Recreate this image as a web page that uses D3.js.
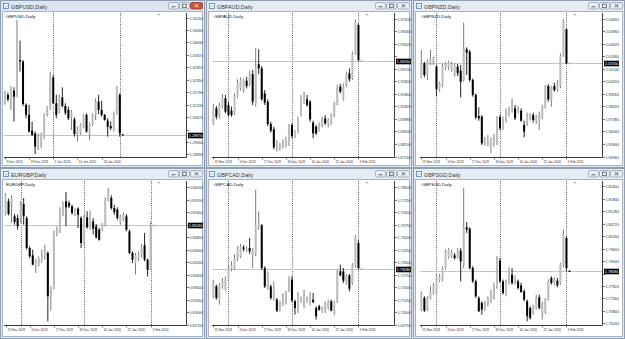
<!DOCTYPE html>
<html lang="en">
<head>
<meta charset="UTF-8">
<title>GBP crosses, Daily</title>
<style>
  body, html { margin: 0; overflow: hidden; background: #fff; }
  svg { display: block; font-family: "Liberation Sans", Arial, sans-serif; }
</style>
</head>
<body>
<script src="https://d3js.org/d3.v7.min.js"></script>
<script>
const width = 625, height = 339;

// trading days on the charts
const dates = [
  "25 Nov 2019","26 Nov 2019","27 Nov 2019","28 Nov 2019","29 Nov 2019",
  "2 Dec 2019","3 Dec 2019","4 Dec 2019","5 Dec 2019","6 Dec 2019",
  "9 Dec 2019","10 Dec 2019","11 Dec 2019","12 Dec 2019","13 Dec 2019",
  "16 Dec 2019","17 Dec 2019","18 Dec 2019","19 Dec 2019","20 Dec 2019",
  "23 Dec 2019","24 Dec 2019","26 Dec 2019","27 Dec 2019","30 Dec 2019","31 Dec 2019",
  "2 Jan 2020","3 Jan 2020","6 Jan 2020","7 Jan 2020","8 Jan 2020","9 Jan 2020","10 Jan 2020",
  "13 Jan 2020","14 Jan 2020","15 Jan 2020","16 Jan 2020","17 Jan 2020",
  "20 Jan 2020","21 Jan 2020","22 Jan 2020","23 Jan 2020","24 Jan 2020",
  "27 Jan 2020","28 Jan 2020","29 Jan 2020","30 Jan 2020","31 Jan 2020",
  "3 Feb 2020","4 Feb 2020"
];

// date labels under each chart
const datesGbpusd = ["9 Dec 2019", "19 Dec 2019", "2 Jan 2020", "14 Jan 2020", "24 Jan 2020"];
const datesOthers = ["25 Nov 2019", "5 Dec 2019", "17 Dec 2019", "30 Dec 2019", "10 Jan 2020", "22 Jan 2020", "3 Feb 2020"];

// [open, high, low, close] -- GBPUSD from 6 Dec 2019
const gbpusd = [
  [1.3137,1.3182,1.3126,1.3159],[1.3132,1.3186,1.3122,1.3167],[1.3167,1.3177,1.3137,1.3147],
  [1.3147,1.3207,1.3099,1.3192],[1.3186,1.3201,1.3047,1.3159],[1.3159,1.3504,1.3156,1.3324],
  [1.3324,1.3411,1.3272,1.3317],[1.3317,1.3324,1.3117,1.3126],[1.3122,1.3129,1.3062,1.3077],
  [1.3077,1.3122,1.2997,1.3002],[1.3006,1.3047,1.2982,1.2987],[1.2994,1.3002,1.2901,1.2934],
  [1.2934,1.2994,1.2919,1.2961],[1.2937,1.2997,1.2927,1.2987],[1.2976,1.3084,1.2967,1.3077],
  [1.3077,1.3117,1.3069,1.3111],[1.3107,1.3272,1.3099,1.3242],
  [1.3246,1.3257,1.3126,1.3129],[1.3129,1.3167,1.3062,1.3077],[1.3092,1.3167,1.3084,1.3156],
  [1.3156,1.3201,1.3111,1.3117],[1.3117,1.3129,1.3077,1.3087],[1.3099,1.3114,1.3054,1.3062],
  [1.3066,1.3099,1.3009,1.3087],[1.3057,1.3066,1.2979,1.2991],[1.2987,1.3024,1.2957,1.3012],
  [1.2997,1.3039,1.2987,1.3032],[1.3024,1.3081,1.3017,1.3077],[1.3077,1.3084,1.2997,1.3002],
  [1.2994,1.3042,1.2964,1.3036],[1.3036,1.3084,1.3027,1.3077],[1.3077,1.3152,1.3054,1.3137],
  [1.3137,1.3167,1.3081,1.3099],[1.3099,1.3141,1.3069,1.3077],[1.3077,1.3081,1.3051,1.3054],
  [1.3051,1.3062,1.2979,1.3024],[1.3027,1.3047,1.3009,1.3017],[1.3012,1.3092,1.3002,1.3084],
  [1.3084,1.3207,1.3077,1.3200],[1.3167,1.3174,1.2979,1.2994],[1.2989,1.2992,1.2985,1.2987]
];

// GBPAUD from 25 Nov 2019
const gbpaud = [
  [1.8970,1.9110,1.89525,1.9085],[1.90775,1.9095,1.8995,1.9015],[1.9015,1.9120,1.90025,1.9095],
  [1.9095,1.9185,1.90775,1.9160],[1.91525,1.91775,1.9040,1.90525],
  [1.91025,1.91275,1.9015,1.90275],[1.9060,1.9090,1.9015,1.90275],[1.9040,1.9190,1.90275,1.9170],
  [1.9170,1.9295,1.91525,1.9270],[1.92275,1.9310,1.9210,1.9285],[1.9210,1.93025,1.9195,1.9285],
  [1.9285,1.9315,1.92275,1.9245],[1.9265,1.9360,1.9245,1.9335],[1.9335,1.9365,1.91025,1.91275],
  [1.9110,1.95275,1.9090,1.9390],[1.9410,1.9520,1.9335,1.93775],[1.93775,1.9395,1.9135,1.9145],
  [1.9190,1.9215,1.91025,1.9120],[1.91275,1.9145,1.8945,1.8960],[1.8960,1.89775,1.8895,1.8910],
  [1.8920,1.8940,1.8770,1.8785],[1.87775,1.8840,1.87525,1.8795],[1.87775,1.8820,1.8760,1.88025],
  [1.8790,1.8845,1.87775,1.8820],[1.8795,1.8865,1.8785,1.8845],[1.8810,1.8960,1.8795,1.8945],
  [1.89525,1.8965,1.88525,1.8870],[1.8865,1.8915,1.88525,1.8900],[1.89025,1.9015,1.8890,1.9000],
  [1.90275,1.91775,1.9015,1.9160],[1.9145,1.92025,1.9110,1.9165],[1.9145,1.91775,1.9090,1.91025],
  [1.91275,1.9140,1.89775,1.8995],[1.8970,1.8985,1.88525,1.8890],[1.8940,1.89525,1.88775,1.8890],
  [1.8915,1.8970,1.89025,1.89525],[1.89525,1.9015,1.8935,1.9000],[1.90025,1.90275,1.89525,1.8965],
  [1.8965,1.90025,1.8935,1.8990],[1.8965,1.9040,1.89525,1.90275],[1.90275,1.91275,1.9010,1.9115],
  [1.9115,1.92525,1.91025,1.9235],[1.9240,1.9260,1.9190,1.92025],[1.91525,1.9265,1.9135,1.9245],
  [1.92525,1.93525,1.9235,1.9335],[1.9340,1.93775,1.92775,1.9295],[1.93025,1.95025,1.9290,1.9485],
  [1.9490,1.9745,1.94775,1.9720],[1.97025,1.9715,1.94275,1.9440],[1.9435,1.9440,1.9430,1.9435]
];

// GBPNZD from 25 Nov 2019
const gbpnzd = [
  [2.0050,2.0255,2.00425,2.0155],[2.0155,2.01675,2.0050,2.00675],[2.00675,2.0185,2.0030,2.01675],
  [2.0160,2.0255,2.01425,2.0175],[2.0155,2.0205,2.01425,2.01925],
  [2.0130,2.01425,1.9910,1.9960],[1.9960,2.00175,1.99425,2.0005],[1.99925,2.0150,1.9975,2.0135],
  [2.01175,2.01675,2.0105,2.0155],[2.0130,2.0175,2.0105,2.0160],[2.0105,2.01675,2.00925,2.0150],
  [2.00675,2.0155,2.0055,2.0135],[2.0130,2.0150,2.0060,2.0080],[2.0100,2.01425,1.9900,2.00175],
  [2.0030,2.0460,2.00175,2.0260],[2.0260,2.0275,2.00675,2.0235],[2.02425,2.0255,2.00175,2.0030],
  [2.0030,2.00425,1.9905,1.99175],[1.99175,1.9930,1.9735,1.9750],[1.9760,1.9825,1.9725,1.97425],
  [1.9755,1.97675,1.95425,1.9555],[1.9550,1.9605,1.9535,1.9580],[1.95425,1.96175,1.9530,1.9575],
  [1.9535,1.9600,1.9480,1.9560],[1.9555,1.9625,1.9530,1.9605],[1.9555,1.9760,1.95425,1.97425],
  [1.9750,1.97675,1.9655,1.96675],[1.96675,1.9755,1.9655,1.9735],[1.9725,1.98175,1.9710,1.9800],
  [1.97675,1.9830,1.9755,1.9805],[1.9805,1.98925,1.9785,1.9875],[1.98175,1.98425,1.9730,1.97425],
  [1.97925,1.9835,1.9780,1.98175],[1.9800,1.98175,1.97175,1.9725],[1.96925,1.9725,1.9600,1.96425],
  [1.9705,1.9785,1.9685,1.97675],[1.97425,1.9780,1.9725,1.97675],[1.97675,1.9785,1.9710,1.9730],
  [1.9725,1.97675,1.9700,1.9755],[1.97175,1.97925,1.9655,1.97675],[1.97425,1.98425,1.9735,1.9825],
  [1.9825,1.99925,1.98175,1.9975],[1.9985,2.0000,1.98675,1.9885],[1.9880,1.9985,1.9830,1.9975],
  [1.9985,2.0010,1.99425,1.9955],[1.9955,2.0030,1.99425,1.99925],[1.9985,2.0230,1.99675,2.0210],
  [2.02175,2.0485,2.0205,2.04675],[2.0410,2.04175,2.0150,2.0155],[2.0155,2.0160,2.0150,2.0155]
];

// EURGBP from 25 Nov 2019
const eurgbp = [
  [0.85356,0.8586,0.85324,0.8582],[0.8566,0.85724,0.85324,0.85356],[0.8558,0.85804,0.8514,0.85724],
  [0.8530,0.85356,0.8510,0.85164],[0.8526,0.8534,0.8498,0.8506],
  [0.8526,0.8566,0.8514,0.85596],[0.85596,0.8574,0.8510,0.8530],[0.8526,0.8530,0.8450,0.8454],
  [0.8454,0.8458,0.8430,0.8434],[0.84364,0.8450,0.84124,0.8414],[0.8414,0.84284,0.8394,0.8422],
  [0.8414,0.8434,0.8410,0.84284],[0.84284,0.8450,0.8418,0.84364],[0.8434,0.8462,0.8426,0.8450],
  [0.8442,0.8446,0.8278,0.8338],[0.8338,0.8362,0.83036,0.8358],[0.8358,0.84956,0.8354,0.8490],
  [0.8490,0.8506,0.8482,0.8498],[0.8494,0.85516,0.8490,0.8546],[0.8534,0.8566,0.8530,0.8558],
  [0.8566,0.85884,0.8506,0.85516],[0.8562,0.85676,0.8550,0.8554],[0.8554,0.8558,0.8534,0.8538],
  [0.85356,0.8550,0.8530,0.8546],[0.85484,0.85516,0.8502,0.8534],[0.8526,0.8530,0.8454,0.8466],
  [0.84684,0.8534,0.8462,0.8526],[0.85276,0.8542,0.85004,0.85036],[0.85036,0.85436,0.8498,0.8538],
  [0.8518,0.8526,0.8486,0.85004],[0.8506,0.85116,0.84764,0.84796],[0.8498,0.8502,0.84716,0.8474],
  [0.8498,0.8514,0.8494,0.8510],[0.8510,0.85756,0.8506,0.8570],[0.8570,0.8598,0.8566,0.85916],
  [0.8574,0.85804,0.8546,0.8550],[0.8550,0.8558,0.8534,0.85404],[0.8546,0.85516,0.8522,0.8526],
  [0.8514,0.8534,0.8510,0.8530],[0.8522,0.8538,0.8518,0.8534],[0.8530,0.85356,0.8494,0.8498],
  [0.8494,0.8498,0.84396,0.8442],[0.8442,0.8446,0.8418,0.8426],[0.8418,0.8442,0.8390,0.84364],
  [0.8430,0.8446,0.8422,0.84396],[0.84364,0.84636,0.84316,0.8458],[0.84604,0.8490,0.8422,0.8426],
  [0.8426,0.84284,0.8386,0.8402],[0.8406,0.85164,0.8402,0.8506],[0.85084,0.8510,0.8506,0.85084]
];

// GBPCAD from 25 Nov 2019
const gbpcad = [
  [1.7144,1.7244,1.7134,1.7230],[1.7204,1.7214,1.7124,1.7134],[1.7124,1.7224,1.7094,1.7210],
  [1.7204,1.7254,1.7190,1.7224],[1.7190,1.7264,1.7178,1.7250],
  [1.7254,1.7334,1.7244,1.7314],[1.7304,1.7354,1.7294,1.7330],[1.7314,1.7398,1.7304,1.7370],
  [1.7370,1.7444,1.7354,1.7430],[1.7384,1.7458,1.7374,1.7444],[1.7438,1.7450,1.7414,1.7426],
  [1.7424,1.7444,1.7410,1.7434],[1.7434,1.7494,1.7398,1.7414],[1.7390,1.7434,1.7314,1.7410],
  [1.7398,1.7784,1.7384,1.7570],[1.7564,1.7654,1.7544,1.7574],[1.7570,1.7578,1.7304,1.7314],
  [1.7314,1.7324,1.7194,1.7204],[1.7194,1.7294,1.7184,1.7284],[1.7204,1.7214,1.7124,1.7134],
  [1.7134,1.7234,1.7118,1.7184],[1.7124,1.7134,1.7050,1.7058],[1.7064,1.7118,1.7054,1.7110],
  [1.7094,1.7164,1.7084,1.7150],[1.7104,1.7178,1.7094,1.7164],[1.7174,1.7264,1.7170,1.7234],
  [1.7244,1.7264,1.7110,1.7118],[1.7114,1.7124,1.7034,1.7074],[1.7054,1.7170,1.7044,1.7158],
  [1.7114,1.7144,1.7104,1.7134],[1.7084,1.7184,1.7074,1.7158],[1.7114,1.7144,1.7104,1.7134],
  [1.7098,1.7170,1.7090,1.7158],[1.7124,1.7164,1.7104,1.7110],[1.7074,1.7084,1.7004,1.7024],
  [1.7084,1.7094,1.7058,1.7064],[1.7054,1.7084,1.7044,1.7074],[1.7054,1.7114,1.7044,1.7104],
  [1.7074,1.7124,1.7064,1.7114],[1.7114,1.7124,1.7054,1.7058],[1.7038,1.7118,1.7030,1.7110],
  [1.7114,1.7304,1.7104,1.7294],[1.7294,1.7334,1.7264,1.7270],[1.7294,1.7314,1.7224,1.7238],
  [1.7224,1.7278,1.7214,1.7270],[1.7270,1.7278,1.7174,1.7190],[1.7224,1.7344,1.7214,1.7330],
  [1.7324,1.7510,1.7314,1.7498],[1.7464,1.7484,1.7304,1.7314],[1.7308,1.7312,1.7304,1.7308]
];

// GBPSGD from 25 Nov 2019
const gbpsgd = [
  [1.7686,1.7768,1.7678,1.7756],[1.7738,1.7746,1.7675,1.7681],[1.7686,1.7746,1.7678,1.7735],
  [1.7738,1.7791,1.7731,1.7765],[1.7761,1.7806,1.7753,1.7791],
  [1.7765,1.7846,1.7756,1.7836],[1.7816,1.7846,1.7810,1.7836],[1.7821,1.7881,1.7813,1.7873],
  [1.7873,1.7956,1.7866,1.7945],[1.7921,1.7963,1.7915,1.7956],[1.7926,1.7956,1.7918,1.7945],
  [1.7930,1.7941,1.7911,1.7918],[1.7921,1.7963,1.7915,1.7948],[1.7951,1.7963,1.7813,1.7903],
  [1.7888,1.8233,1.7873,1.8056],[1.8056,1.8080,1.8031,1.8046],[1.8050,1.8056,1.7866,1.7873],
  [1.7873,1.7881,1.7806,1.7813],[1.7813,1.7821,1.7738,1.7746],[1.7738,1.7746,1.7675,1.7678],
  [1.7716,1.7723,1.7663,1.7686],[1.7693,1.7726,1.7681,1.7716],[1.7708,1.7746,1.7701,1.7738],
  [1.7723,1.7776,1.7716,1.7768],[1.7738,1.7806,1.7731,1.7795],[1.7791,1.7926,1.7780,1.7911],
  [1.7906,1.7918,1.7806,1.7813],[1.7813,1.7821,1.7753,1.7761],[1.7753,1.7821,1.7746,1.7813],
  [1.7806,1.7876,1.7798,1.7870],[1.7843,1.7873,1.7798,1.7806],[1.7806,1.7840,1.7798,1.7831],
  [1.7813,1.7821,1.7776,1.7783],[1.7795,1.7806,1.7761,1.7765],[1.7768,1.7776,1.7723,1.7731],
  [1.7723,1.7731,1.7633,1.7656],[1.7693,1.7701,1.7641,1.7648],[1.7671,1.7708,1.7663,1.7701],
  [1.7693,1.7753,1.7686,1.7741],[1.7741,1.7753,1.7686,1.7693],[1.7663,1.7720,1.7641,1.7711],
  [1.7675,1.7738,1.7666,1.7731],[1.7731,1.7821,1.7726,1.7810],[1.7828,1.7836,1.7798,1.7806],
  [1.7806,1.7831,1.7795,1.7825],[1.7816,1.7828,1.7786,1.7795],[1.7806,1.7896,1.7798,1.7888],
  [1.7885,1.8046,1.7876,1.8023],[1.8008,1.8016,1.7858,1.7873],[1.7860,1.7862,1.7856,1.7858]
];

// price axis: [bottom, top] of each chart, and the labels on it
const gbpusdRange = [1.28875, 1.35355];
const gbpaudRange = [1.87125, 1.97925];
const gbpnzdRange = [1.94525, 2.05325];
const eurgbpRange = [0.82692, 0.86148];
const gbpcadRange = [1.6972, 1.7836];
const gbpsgdRange = [1.76165, 1.82645];

const gbpusdTicks = [1.3515,1.3459,1.3403,1.3347,1.3291,1.3235,1.3179,1.3123,1.3067,1.3011,1.2955,1.2899];
const gbpaudTicks = [1.9750,1.9656,1.9562,1.9468,1.9374,1.9280,1.9186,1.9092,1.8998,1.8904,1.8810,1.8716];
const gbpnzdTicks = [2.0490,2.0396,2.0302,2.0208,2.0114,2.0020,1.9926,1.9832,1.9738,1.9644,1.9550,1.9456];
const eurgbpTicks = [0.8600,0.8570,0.8540,0.8510,0.8480,0.8450,0.8420,0.8390,0.8360,0.8330,0.8300,0.8270];
const gbpcadTicks = [1.7800,1.7725,1.7650,1.7575,1.7500,1.7425,1.7350,1.7275,1.7200,1.7125,1.7050,1.6975];
const gbpsgdTicks = [1.8240,1.8184,1.8128,1.8072,1.8016,1.7960,1.7904,1.7848,1.7792,1.7736,1.7680,1.7624];

// window layout
const windows = [
  {x: 0,   y: 0,   w: 205, h: 168, plotX: 4, sym: "GBPUSD", data: gbpusd, from: "6 Dec 2019",  view: "9 Dec 2019",  lead: 0.3,  range: gbpusdRange, ticks: gbpusdTicks, labels: datesGbpusd, active: true},
  {x: 206, y: 0,   w: 206, h: 168, plotX: 6, sym: "GBPAUD", data: gbpaud, from: "25 Nov 2019", view: "25 Nov 2019", lead: 0.45, range: gbpaudRange, ticks: gbpaudTicks, labels: datesOthers},
  {x: 413, y: 0,   w: 212, h: 168, plotX: 7, sym: "GBPNZD", data: gbpnzd, from: "25 Nov 2019", view: "25 Nov 2019", lead: 0.45, range: gbpnzdRange, ticks: gbpnzdTicks, labels: datesOthers},
  {x: 0,   y: 168, w: 205, h: 171, plotX: 4, sym: "EURGBP", data: eurgbp, from: "25 Nov 2019", view: "25 Nov 2019", lead: 0.5,  range: eurgbpRange, ticks: eurgbpTicks, labels: datesOthers},
  {x: 206, y: 168, w: 206, h: 171, plotX: 6, sym: "GBPCAD", data: gbpcad, from: "25 Nov 2019", view: "25 Nov 2019", lead: 0.45, range: gbpcadRange, ticks: gbpcadTicks, labels: datesOthers},
  {x: 413, y: 168, w: 212, h: 171, plotX: 7, sym: "GBPSGD", data: gbpsgd, from: "25 Nov 2019", view: "25 Nov 2019", lead: 0.45, range: gbpsgdRange, ticks: gbpsgdTicks, labels: datesOthers}
];

const barPx = 3.023;          // one daily bar
const plotW = 182, plotTop = 13, plotBottom = 157;
const fmt = d3.format(".5f");

const svg = d3.select("body").append("svg")
    .attr("width", width)
    .attr("height", height);

// MDI background
svg.append("rect").attr("width", width).attr("height", height).attr("fill", "#d3dde8");

windows.forEach((win, k) => drawWindow(win, k));

function drawWindow(win, k) {
    const g = svg.append("g").attr("transform", `translate(${win.x},${win.y})`);

    // frame + title bar
    g.append("rect")
        .attr("x", 0.5).attr("y", 0.5)
        .attr("width", win.w - 1).attr("height", win.h - 1)
        .attr("fill", "#e2e9f1")
        .attr("stroke", "#8f9fb3");
    g.append("rect")
        .attr("x", 1).attr("y", 1)
        .attr("width", win.w - 2).attr("height", 10)
        .attr("fill", win.active ? "#dbe6f2" : "#e6ecf3");

    // title icon
    g.append("rect").attr("x", 3.5).attr("y", 3.5).attr("width", 5).attr("height", 5)
        .attr("fill", "#fff").attr("stroke", "#4f7fb8").attr("stroke-width", 0.8);
    g.append("path").attr("d", "M4.5,7.5 L6,5.5 L7.5,6.5").attr("fill", "none")
        .attr("stroke", "#4f7fb8").attr("stroke-width", 0.6);

    g.append("text")
        .attr("x", 11).attr("y", 8.5)
        .attr("font-size", 5.4)
        .attr("fill", "#3a3a3a")
        .text(`${win.sym},Daily`);

    // min / max / close buttons
    const btns = [
        {x: win.w - 37, w: 10, kind: "min"},
        {x: win.w - 26, w: 10, kind: "max"},
        {x: win.w - 15, w: 12, kind: "close"}
    ];
    btns.forEach(b => {
        const red = b.kind === "close" && win.active;
        g.append("rect")
            .attr("x", b.x + 0.5).attr("y", 2.5)
            .attr("width", b.w).attr("height", 6.5)
            .attr("rx", 1.5)
            .attr("fill", red ? "#c9533f" : "#e9eef4")
            .attr("stroke", red ? "#8e2c1e" : "#8b98a8")
            .attr("stroke-width", 0.7);
        const cx = b.x + 0.5 + b.w / 2, cy = 5.75;
        const col = red ? "#fff" : "#444";
        if (b.kind === "min") {
            g.append("line").attr("x1", cx - 2).attr("x2", cx + 2).attr("y1", cy + 1).attr("y2", cy + 1)
                .attr("stroke", col).attr("stroke-width", 0.8);
        } else if (b.kind === "max") {
            g.append("rect").attr("x", cx - 2).attr("y", cy - 1.6).attr("width", 4).attr("height", 3.2)
                .attr("fill", "none").attr("stroke", col).attr("stroke-width", 0.7);
        } else {
            g.append("path").attr("d", `M${cx - 1.6},${cy - 1.6}L${cx + 1.6},${cy + 1.6}M${cx + 1.6},${cy - 1.6}L${cx - 1.6},${cy + 1.6}`)
                .attr("stroke", col).attr("stroke-width", 0.9);
        }
    });

    // client area
    g.append("rect")
        .attr("x", 2.5).attr("y", 11.5)
        .attr("width", win.w - 5).attr("height", win.h - 14)
        .attr("fill", "#fff")
        .attr("stroke", "#a9b3bf");

    const px = win.plotX;
    const plotH = plotBottom - plotTop;

    // scales
    const viewIdx = dates.indexOf(win.view);
    const startIdx = dates.indexOf(win.from);
    const x = d3.scaleLinear()
        .domain([viewIdx - win.lead, viewIdx - win.lead + plotW / barPx])
        .range([px, px + plotW]);
    const y = d3.scaleLinear()
        .domain(win.range)
        .range([plotBottom, plotTop]);

    const clipId = `clip${k}`;
    g.append("clipPath").attr("id", clipId)
        .append("rect").attr("x", px).attr("y", plotTop).attr("width", plotW).attr("height", plotH);

    const plot = g.append("g").attr("clip-path", `url(#${clipId})`);

    // period separators (first bar of each month)
    const seps = dates.map((d, i) => i).filter(i => i > 0 && dates[i].split(" ")[1] !== dates[i - 1].split(" ")[1]);
    plot.selectAll(".sep")
        .data(seps)
        .enter().append("line")
        .attr("x1", i => Math.round(x(i)) + 0.5)
        .attr("x2", i => Math.round(x(i)) + 0.5)
        .attr("y1", plotTop).attr("y2", plotBottom)
        .attr("stroke", "#333")
        .attr("stroke-width", 0.8)
        .attr("stroke-dasharray", "1,1.2");

    const bars = win.data.map((v, j) => ({i: startIdx + j, o: v[0], h: v[1], l: v[2], c: v[3]}));
    const last = bars[bars.length - 1];

    // bid line
    plot.append("line")
        .attr("x1", px).attr("x2", px + plotW)
        .attr("y1", Math.round(y(last.c)) + 0.5).attr("y2", Math.round(y(last.c)) + 0.5)
        .attr("stroke", "#c4c4c4");

    // wicks
    plot.selectAll(".wick")
        .data(bars)
        .enter().append("line")
        .attr("x1", d => x(d.i)).attr("x2", d => x(d.i))
        .attr("y1", d => y(d.h)).attr("y2", d => y(d.l))
        .attr("stroke", d => d.c < d.o ? "#222" : "#7c7c7c")
        .attr("stroke-width", 1);

    // bodies
    plot.selectAll(".body")
        .data(bars)
        .enter().append("rect")
        .attr("x", d => x(d.i) - 1)
        .attr("width", 2)
        .attr("y", d => y(Math.max(d.o, d.c)))
        .attr("height", d => Math.max(1, Math.abs(y(d.o) - y(d.c))))
        .attr("fill", d => d.c < d.o ? "#000" : "#bcbcbc");

    // chart shift marker
    g.append("path")
        .attr("d", `M${px + plotW - 28.5},${plotTop + 1}h3l-1.5,1.6z`)
        .attr("fill", "#9a9a9a");

    // plot frame (right + bottom)
    g.append("path")
        .attr("d", `M${px + plotW + 0.5},${plotTop}V${plotBottom + 0.5}H${px}`)
        .attr("fill", "none")
        .attr("stroke", "#3c3c3c");

    // symbol label inside the chart
    g.append("text")
        .attr("x", px + 2).attr("y", plotTop + 5)
        .attr("font-size", 4.4)
        .attr("fill", "#111")
        .text(`${win.sym},Daily`);

    // price axis (labels hidden under the current price box)
    const axis = g.append("g");
    const cy = Math.round(y(last.c)) + 0.5;
    win.ticks.forEach(t => {
        const ty = Math.round(y(t)) + 0.5;
        axis.append("line")
            .attr("x1", px + plotW + 1).attr("x2", px + plotW + 3)
            .attr("y1", ty).attr("y2", ty)
            .attr("stroke", "#555").attr("stroke-width", 0.8);
        if (Math.abs(ty - cy) < 5.5) return;
        axis.append("text")
            .attr("x", px + plotW + 3.5).attr("y", ty + 1.5)
            .attr("font-size", 4.2)
            .attr("textLength", 13.5)
            .attr("lengthAdjust", "spacingAndGlyphs")
            .attr("fill", "#333")
            .text(fmt(t));
    });

    // current price label
    axis.append("rect")
        .attr("x", px + plotW + 2).attr("y", cy - 2.8)
        .attr("width", 15).attr("height", 5.6)
        .attr("fill", "#000");
    axis.append("text")
        .attr("x", px + plotW + 2.8).attr("y", cy + 1.5)
        .attr("font-size", 4.2)
        .attr("textLength", 13.5)
        .attr("lengthAdjust", "spacingAndGlyphs")
        .attr("fill", "#fff")
        .text(fmt(last.c));

    // date axis
    win.labels.forEach(lbl => {
        const lx = Math.round(x(dates.indexOf(lbl))) + 0.5;
        axis.append("line")
            .attr("x1", lx).attr("x2", lx)
            .attr("y1", plotBottom + 0.5).attr("y2", plotBottom + 2.5)
            .attr("stroke", "#555").attr("stroke-width", 0.8);
        axis.append("text")
            .attr("x", lx + 1).attr("y", plotBottom + 5.5)
            .attr("font-size", 4.2)
            .attr("textLength", lbl.length * 1.6)
            .attr("lengthAdjust", "spacingAndGlyphs")
            .attr("fill", "#333")
            .text(lbl);
    });
}
</script>
</body>
</html>
